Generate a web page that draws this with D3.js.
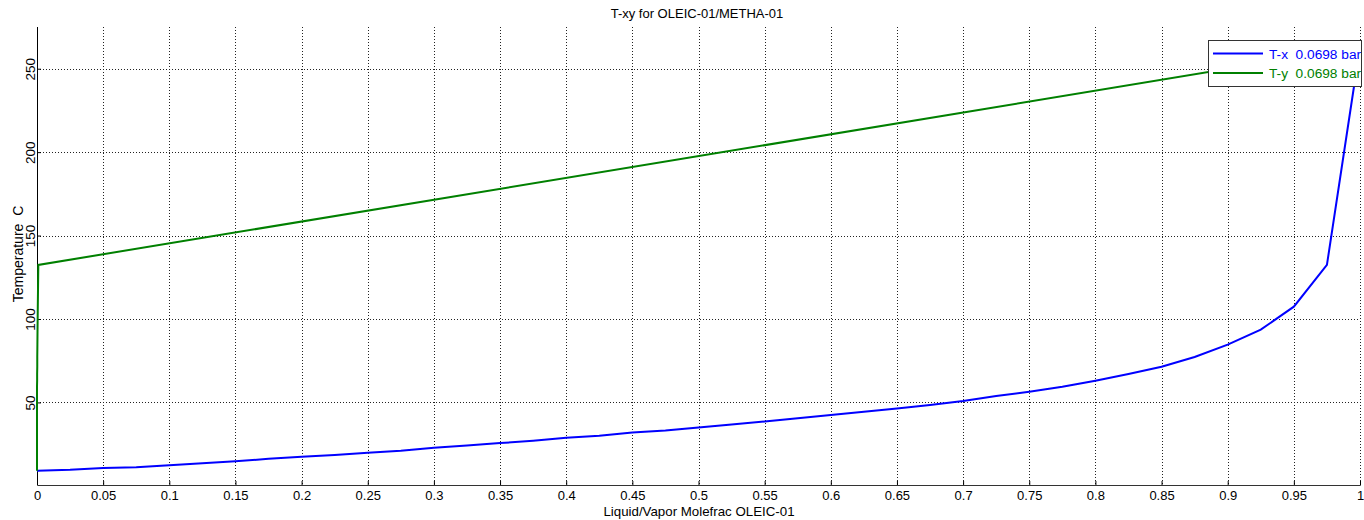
<!DOCTYPE html>
<html><head><meta charset="utf-8">
<script src="https://cdn.jsdelivr.net/npm/d3@7"></script>
<style>body{margin:0;background:#fff}svg{display:block}text{font-family:"Liberation Sans",Arial,sans-serif;white-space:pre}</style>
</head><body>
<svg id="c" width="1364" height="520"></svg>
<script>
const liquidX = [0,0.025,0.05,0.075,0.1,0.125,0.15,0.175,0.2,0.225,0.25,0.275,0.3,0.325,0.35,0.375,0.4,0.425,0.45,0.475,0.5,0.525,0.55,0.575,0.6,0.625,0.65,0.675,0.7,0.725,0.75,0.775,0.8,0.825,0.85,0.875,0.9,0.925,0.95,0.975,1];
const temps = [9.0,9.6,10.7,11.2,12.4,13.5,14.7,16.2,17.4,18.5,19.8,21.0,22.8,24.2,25.6,27.0,28.8,30.0,32.0,33.2,35.0,36.8,38.6,40.5,42.4,44.4,46.4,48.5,50.8,53.8,56.4,59.4,63.0,67.0,71.4,77.2,84.6,93.6,107.4,132.4,263];
const vaporY = [0,0,0,0,0,0,0,0,0,0,0,0,0,0,0,0,0,0,0,0,0,0,0,0,0,0,0,0,0,0,0,0,0.0001,0.0001,0.0002,0.0002,0.0003,0.0004,0.0006,0.001,1];
const xTicks = d3.range(0, 21).map(i => +(i * 0.05).toFixed(2));
const yTicks = [50,100,150,200,250];
const seriesNames = ["T-x  0.0698 bar", "T-y  0.0698 bar"];
const colors = ["#0000ff", "#008000"];

const svg = d3.select("#c");
const L = 37, R = 1360, T = 27, B = 485;
const x = d3.scaleLinear().domain([0,1]).range([L,R]);
const y = d3.scaleLinear().domain([0.5,275]).range([B,T]);

// grid
const g = svg.append("g");
g.selectAll(".vx").data(xTicks.filter(d=>d>0)).join("line")
  .attr("x1", d=>Math.round(x(d))+0.5).attr("x2", d=>Math.round(x(d))+0.5)
  .attr("y1", T).attr("y2", B)
  .attr("stroke","#222").attr("stroke-dasharray","1,2").attr("stroke-width",1);
g.selectAll(".hy").data(yTicks).join("line")
  .attr("x1", L).attr("x2", R)
  .attr("y1", d=>Math.round(y(d))+0.5).attr("y2", d=>Math.round(y(d))+0.5)
  .attr("stroke","#222").attr("stroke-dasharray","1,2").attr("stroke-width",1);

// axes
const xAxis = d3.axisBottom(x).tickValues(xTicks).tickSize(-4).tickPadding(5.5)
  .tickFormat(d => d3.format("")(d));
const xa = svg.append("g").attr("transform",`translate(0,${B})`).call(xAxis);
xa.select(".domain").attr("stroke","#333");
xa.selectAll(".tick line").attr("stroke","#000");
xa.selectAll("text").attr("font-size","13px").attr("fill","#000");

const yAxis = d3.axisLeft(y).tickValues(yTicks).tickSize(-4).tickPadding(0);
const ya = svg.append("g").attr("transform",`translate(${L},0)`).call(yAxis);
ya.select(".domain").attr("d",`M0.5,${T}V${B}`).attr("stroke","#000");
ya.selectAll(".tick line").attr("stroke","#000");
ya.selectAll("text").attr("font-size","13.5px").attr("fill","#000")
  .attr("text-anchor","middle").attr("x",0).attr("dy",0)
  .attr("transform","translate(-2.5,0) rotate(-90)");

// lines
const line = d3.line().x(d=>x(d[0])).y(d=>y(d[1]));
svg.append("path").datum(liquidX.map((v,i)=>[v,temps[i]]))
  .attr("d", line).attr("fill","none").attr("stroke",colors[0]).attr("stroke-width",2);
svg.append("path").datum(vaporY.map((v,i)=>[v,temps[i]]))
  .attr("d", line).attr("fill","none").attr("stroke",colors[1]).attr("stroke-width",2);

// titles
svg.append("text").attr("x",697).attr("y",18).attr("text-anchor","middle")
  .attr("font-size","13px").text("T-xy for OLEIC-01/METHA-01");
svg.append("text").attr("x",699).attr("y",516).attr("text-anchor","middle")
  .attr("font-size","13.3px").text("Liquid/Vapor Molefrac OLEIC-01");
svg.append("text").attr("transform","translate(23,254) rotate(-90)").attr("text-anchor","middle")
  .attr("font-size","14px").text("Temperature  C");

// legend
const lx = 1208, ly = 40, lw = 153, lh = 46;
svg.append("clipPath").attr("id","lc").append("rect").attr("x",lx).attr("y",ly).attr("width",lw).attr("height",lh);
const lg = svg.append("g");
lg.append("rect").attr("x",lx+0.5).attr("y",ly+0.5).attr("width",lw).attr("height",lh)
  .attr("fill","#fff").attr("stroke","#333");
const items = lg.append("g").attr("clip-path","url(#lc)");
seriesNames.forEach((n,i)=>{
  const yy = 53.5 + i*19.5;
  items.append("line").attr("x1",1213).attr("x2",1263).attr("y1",yy).attr("y2",yy)
    .attr("stroke",colors[i]).attr("stroke-width",2);
  items.append("text").attr("x",1269).attr("y",yy+5).attr("font-size","13.7px")
    .attr("fill",colors[i]).text(n);
});
</script>
</body></html>
